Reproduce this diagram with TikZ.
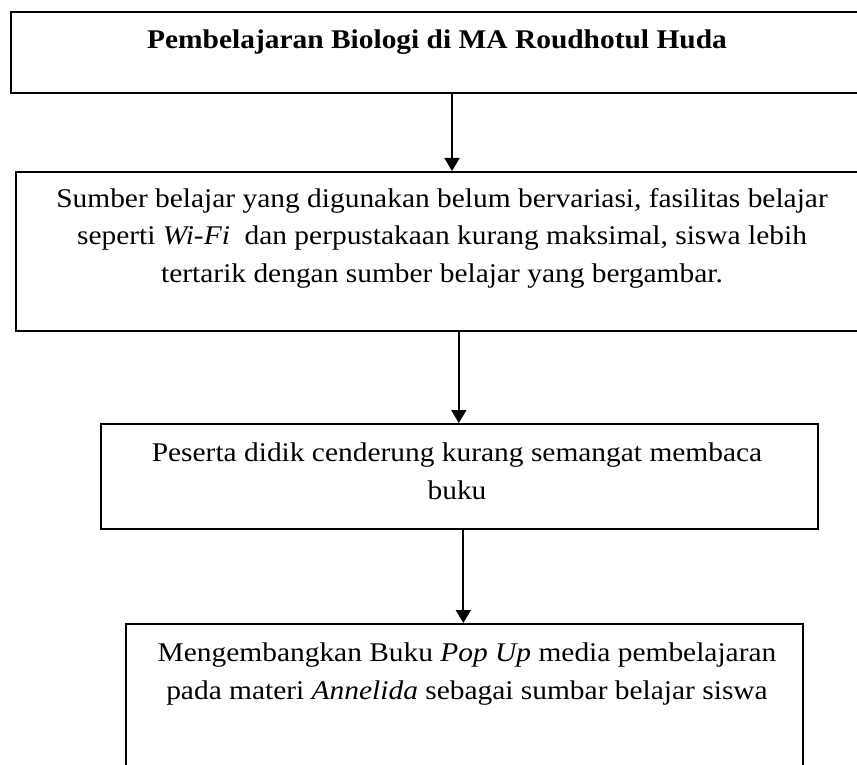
\documentclass[tikz,border=0pt]{standalone}
\usepackage{fontspec}
\setmainfont[FakeStretch=1.09]{Liberation Serif}
\usetikzlibrary{arrows.meta,positioning}

\tikzset{
    box/.style={draw, line width=1.6pt, rectangle, anchor=north west, inner sep=0pt},
    txt/.style={align=center, inner sep=0pt, font=\fontsize{27}{37.5}\selectfont},
    arr/.style={line width=1.8pt, -{Triangle[length=13pt,width=15pt]}}
}

\begin{document}
\begin{tikzpicture}[x=1pt, y=-1pt]
        \useasboundingbox (0, 0) rectangle (857, 765);

        \node[box, line width=2pt, minimum width=854pt, minimum height=81pt] (b1) at (10, 11) {};
        \node[box, minimum width=854pt, minimum height=159pt] (b2) at (15, 171) {};
        \node[box, minimum width=717pt, minimum height=105pt] (b3) at (100, 423) {};
        \node[box, minimum width=677pt, minimum height=180pt] (b4) at (125, 623) {};

        % anchor=base sits on the last line
        \node[txt, font=\fontsize{27}{37.5}\selectfont\bfseries, anchor=base] (t1) at (437, 49) {Pembelajaran Biologi di MA Roudhotul Huda};
        \node[txt, anchor=base] (t2) at (442, 282) {Sumber belajar yang digunakan belum bervariasi, fasilitas belajar\\
            seperti \textit{Wi-Fi}\ \ dan perpustakaan kurang maksimal, siswa lebih\\
            tertarik dengan sumber belajar yang bergambar.};
        \node[txt, anchor=base] (t3) at (457, 499) {Peserta didik cenderung kurang semangat membaca\\ buku};
        \node[txt, anchor=base] (t4) at (467, 699) {Mengembangkan Buku \textit{Pop Up} media pembelajaran\\
            pada materi \textit{Annelida} sebagai sumbar belajar siswa};

        \draw[arr] ([xshift=14pt]b1.south) -- ([xshift=14pt]b1.south |- b2.north);
        \draw[arr] ([xshift=16pt]b2.south) -- ([xshift=16pt]b2.south |- b3.north);
        \draw[arr] ([xshift=4pt]b3.south) -- ([xshift=4pt]b3.south |- b4.north);
    \end{tikzpicture}
\end{document}
